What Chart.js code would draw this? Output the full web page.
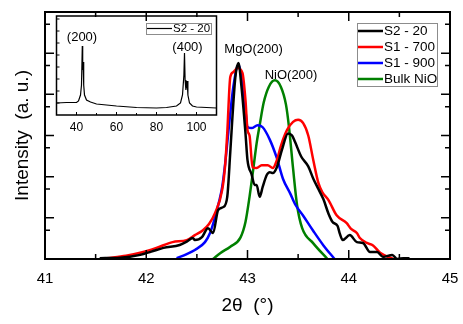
<!DOCTYPE html>
<html><head><meta charset="utf-8">
<script src="https://cdn.jsdelivr.net/npm/chart.js@4.4.0/dist/chart.umd.min.js"></script>
<style>
html,body{margin:0;padding:0;background:#fff;}
#wrap{position:relative;width:463px;height:324px;overflow:hidden;}
#main{position:absolute;left:0;top:0;}
#inset{position:absolute;left:30px;top:5px;}
</style></head><body>
<div id="wrap"><canvas id="main" width="463" height="324"></canvas><canvas id="inset" width="200" height="135"></canvas></div>
<script>
// ---------- data ----------
const seriesLabels = ['S2 - 20', 'S1 - 700', 'S1 - 900', 'Bulk NiO'];
const seriesColors = ['#000000', '#ff0000', '#0000ff', '#008000'];

const s2_20 = [[41.54,0.02],[41.74,0.03],[41.94,0.10],[42.05,0.18],[42.17,0.27],[42.33,0.34],[42.40,0.42],[42.46,0.51],[42.48,0.46],[42.55,0.53],[42.61,0.75],[42.66,0.63],[42.71,1.19],[42.76,1.26],[42.80,1.51],[42.83,2.60],[42.85,3.40],[42.88,4.42],[42.91,4.76],[42.94,4.20],[42.98,3.06],[43.00,2.40],[43.04,2.06],[43.07,1.80],[43.09,1.80],[43.12,1.51],[43.15,1.75],[43.19,2.04],[43.22,2.11],[43.25,2.09],[43.29,2.23],[43.34,2.65],[43.40,3.05],[43.44,3.00],[43.47,2.84],[43.53,2.49],[43.60,2.25],[43.65,1.95],[43.70,1.70],[43.75,1.45],[43.80,1.10],[43.84,0.90],[43.89,0.80],[43.91,0.63],[43.94,0.46],[44.01,0.58],[44.08,0.41],[44.14,0.39],[44.21,0.17],[44.28,0.17],[44.34,0.05],[44.43,0.10],[44.48,0.00],[44.54,0.02],[44.60,0.02]];

const s1_700 = [[41.61,0.02],[41.80,0.08],[41.94,0.15],[42.10,0.27],[42.26,0.41],[42.40,0.46],[42.48,0.58],[42.56,0.70],[42.62,0.85],[42.68,1.12],[42.75,1.68],[42.78,2.30],[42.80,3.06],[42.83,4.42],[42.86,4.54],[42.90,4.64],[42.95,4.52],[42.98,3.86],[43.00,3.13],[43.02,3.00],[43.05,2.23],[43.09,2.21],[43.14,2.28],[43.20,2.28],[43.25,2.21],[43.29,2.40],[43.33,2.75],[43.39,3.13],[43.45,3.33],[43.50,3.38],[43.55,3.30],[43.60,3.00],[43.65,2.40],[43.70,1.85],[43.74,1.62],[43.80,1.43],[43.88,1.06],[43.98,0.87],[44.02,0.74],[44.08,0.63],[44.11,0.51],[44.18,0.39],[44.24,0.33],[44.31,0.15],[44.44,0.00]];

const s1_900 = [[42.30,0.02],[42.40,0.12],[42.48,0.22],[42.58,0.41],[42.63,0.63],[42.68,1.02],[42.72,1.40],[42.75,1.75],[42.78,2.33],[42.81,3.06],[42.86,4.18],[42.91,4.71],[42.95,4.27],[42.98,3.60],[43.00,3.21],[43.04,3.18],[43.10,3.25],[43.15,3.20],[43.22,2.90],[43.29,2.45],[43.35,1.95],[43.42,1.60],[43.47,1.33],[43.55,1.05],[43.65,0.68],[43.75,0.33],[43.86,0.00]];

const bulk_nio = [[42.66,0.00],[42.73,0.14],[42.83,0.30],[42.93,0.52],[42.98,0.90],[43.02,1.51],[43.06,2.24],[43.09,2.81],[43.12,3.25],[43.16,3.80],[43.21,4.18],[43.27,4.34],[43.33,4.18],[43.38,3.75],[43.41,3.20],[43.45,2.20],[43.49,1.30],[43.54,0.75],[43.65,0.38],[43.79,0.00]];

const xTickValues = [41, 42, 43, 44, 45];
const xMinorTicks = [41.5, 42.5, 43.5, 44.5];
const yMajorTicks = [1, 2, 3, 4, 5];
const yMinorTicks = [0.7, 1.7, 2.7, 3.7, 4.7, 5.7];

const insetLabel = 'S2 - 20';
const inset_s2_20 = [[30,12],[35,12.5],[40,12.5],[41,14],[42,20],[42.5,30],[42.9,69],[43.1,45],[43.3,53],[43.6,30],[44,20],[45,15],[47,13],[50,11],[60,9],[70,7.5],[80,7],[85,7.5],[90,9],[92,12],[93,20],[93.7,40],[94.0,62],[94.3,35],[94.7,25],[95.3,34],[95.7,20],[96.5,12],[98,9],[100,8],[110,7]];
const insetXTicks = [40, 60, 80, 100];
const insetXMinor = [50, 70, 90];
const insetYTicks = [12, 24, 36, 48, 60, 72, 84, 96];

// ---------- plugins ----------
const frameTicks = {
  id: 'frameTicks',
  afterDatasetsDraw(chart, args, o) {
    const {ctx, chartArea: a, scales: {x, y}} = chart;
    ctx.save();
    ctx.strokeStyle = '#000';
    ctx.lineWidth = o.tickWidth;
    ctx.beginPath();
    const tx = (vals, len) => vals.forEach(v => {
      const p = x.getPixelForValue(v);
      ctx.moveTo(p, a.bottom); ctx.lineTo(p, a.bottom - len);
      if (o.top) { ctx.moveTo(p, a.top); ctx.lineTo(p, a.top + len); }
    });
    const ty = (vals, len) => vals.forEach(v => {
      const p = y.getPixelForValue(v);
      ctx.moveTo(a.left, p); ctx.lineTo(a.left + len, p);
      if (o.right) { ctx.moveTo(a.right, p); ctx.lineTo(a.right - len, p); }
    });
    tx(o.xMajor, o.majorLen); tx(o.xMinor, o.minorLen);
    ty(o.yMajor, o.majorLen); ty(o.yMinor, o.minorLen);
    ctx.stroke();
    ctx.lineWidth = o.frameWidth;
    ctx.strokeRect(a.left, a.top, a.right - a.left, a.bottom - a.top);
    ctx.restore();
  }
};

const notes = {
  id: 'notes',
  afterDraw(chart, args, o) {
    const {ctx, scales: {x, y}} = chart;
    ctx.save();
    ctx.fillStyle = '#000';
    ctx.textAlign = 'center';
    ctx.textBaseline = 'middle';
    (o.items || []).forEach(it => {
      ctx.font = it.size + "px 'Liberation Sans', Arial, sans-serif";
      ctx.fillText(it.text, x.getPixelForValue(it.x), y.getPixelForValue(it.y));
    });
    ctx.restore();
  }
};

const boxLegend = {
  id: 'boxLegend',
  afterDraw(chart, args, o) {
    const {ctx} = chart;
    const ds = chart.data.datasets;
    ctx.save();
    ctx.fillStyle = '#fff';
    ctx.fillRect(o.x, o.y, o.w, o.h);
    ctx.strokeStyle = '#8c8c8c';
    ctx.lineWidth = 1;
    ctx.strokeRect(o.x + 0.5, o.y + 0.5, o.w, o.h);
    ctx.font = o.size + "px 'Liberation Sans', Arial, sans-serif";
    ctx.textBaseline = 'middle';
    ctx.textAlign = 'left';
    ds.forEach((d, i) => {
      const yy = o.y + o.first + i * o.step;
      ctx.strokeStyle = d.borderColor;
      ctx.lineWidth = o.lw;
      ctx.beginPath(); ctx.moveTo(o.x + 1, yy); ctx.lineTo(o.x + 1 + o.line, yy); ctx.stroke();
      ctx.fillStyle = '#000';
      ctx.fillText(d.label, o.x + o.line + 2, yy + 0.5);
    });
    ctx.restore();
  }
};

Chart.defaults.font.family = "'Liberation Sans', Arial, sans-serif";
Chart.defaults.color = '#000';

const toXY = arr => arr.map(p => ({x: p[0], y: p[1]}));
const allSeries = [s2_20, s1_700, s1_900, bulk_nio];

new Chart(document.getElementById('main'), {
  type: 'line',
  data: {
    datasets: allSeries.map((s, i) => ({
      label: seriesLabels[i], data: toXY(s), borderColor: seriesColors[i],
      borderWidth: 2.5, pointRadius: 0, cubicInterpolationMode: 'monotone', fill: false
    }))
  },
  options: {
    responsive: false, animation: false,
    layout: {padding: {left: 11, right: 13, top: 12, bottom: 6.6}},
    plugins: {
      legend: {display: false}, tooltip: {enabled: false},
      frameTicks: {xMajor: xTickValues, xMinor: xMinorTicks, yMajor: yMajorTicks, yMinor: yMinorTicks,
        majorLen: 9, minorLen: 5, tickWidth: 1.5, frameWidth: 2, top: true, right: true},
      notes: {items: [{text: 'MgO(200)', x: 43.06, y: 5.08, size: 13}, {text: 'NiO(200)', x: 43.43, y: 4.46, size: 13}]},
      boxLegend: {x: 357, y: 23, w: 80, h: 63, first: 8, step: 16, line: 25, lw: 2.5, size: 13.5}
    },
    scales: {
      x: {
        type: 'linear', min: 41, max: 45,
        afterBuildTicks: s => { s.ticks = xTickValues.map(v => ({value: v})); },
        afterFit: s => { s.height = 58.4; s.paddingLeft = 0; s.paddingRight = 0; },
        ticks: {font: {size: 15}, padding: 11, maxRotation: 0, autoSkip: false, callback: v => String(v)},
        grid: {display: false, drawTicks: false},
        border: {display: false},
        title: {display: true, text: '2θ  (°)', font: {size: 19}, padding: {top: 6.6, bottom: 0}}
      },
      y: {
        type: 'linear', min: 0, max: 6,
        afterFit: s => { s.width = 34; s.paddingTop = 0; s.paddingBottom = 0; },
        ticks: {display: false},
        grid: {display: false, drawTicks: false},
        border: {display: false},
        title: {display: true, text: 'Intensity  (a. u.)', font: {size: 19}, padding: {top: 0, bottom: 11.2}}
      }
    }
  },
  plugins: [frameTicks, notes, boxLegend]
});

new Chart(document.getElementById('inset'), {
  type: 'line',
  data: {
    datasets: [{label: insetLabel, data: toXY(inset_s2_20), borderColor: '#000', borderWidth: 1.2,
      pointRadius: 0, tension: 0, fill: false}]
  },
  options: {
    responsive: false, animation: false,
    layout: {padding: {left: 26.5, right: 13.5, top: 11, bottom: 5.6}},
    plugins: {
      legend: {display: false}, tooltip: {enabled: false},
      frameTicks: {xMajor: insetXTicks, xMinor: insetXMinor, yMajor: insetYTicks, yMinor: [],
        majorLen: 3, minorLen: 2, tickWidth: 1, frameWidth: 1.5, top: false, right: false},
      notes: {items: [{text: '(200)', x: 42.75, y: 77.5, size: 13}, {text: '(400)', x: 95.5, y: 67.5, size: 13}]},
      boxLegend: {x: 116, y: 18, w: 65, h: 11, first: 5.5, step: 12, line: 25, lw: 1.2, size: 11.5}
    },
    scales: {
      x: {
        type: 'linear', min: 30, max: 110,
        afterBuildTicks: s => { s.ticks = insetXTicks.map(v => ({value: v})); },
        afterFit: s => { s.height = 19.4; s.paddingLeft = 0; s.paddingRight = 0; },
        ticks: {font: {size: 12}, padding: 5, maxRotation: 0, autoSkip: false, callback: v => String(v)},
        grid: {display: false, drawTicks: false},
        border: {display: false}
      },
      y: {type: 'linear', min: 0, max: 99, display: false}
    }
  },
  plugins: [frameTicks, notes, boxLegend]
});
</script>
</body></html>
